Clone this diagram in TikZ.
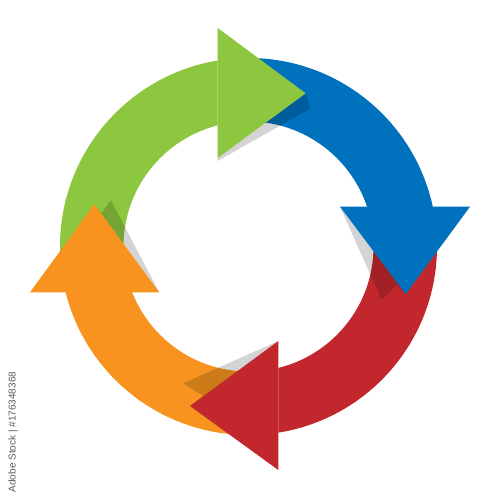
\documentclass[tikz,border=0pt]{standalone}
\usepackage{fontspec}
\setmainfont{Liberation Sans}
\definecolor{cgreen}{HTML}{8DC63F}
\definecolor{cblue}{HTML}{0071BC}
\definecolor{cred}{HTML}{C1272D}
\definecolor{corange}{HTML}{F7931E}
\definecolor{cmark}{HTML}{5A5A5A}
\begin{document}
\begin{tikzpicture}[x=1pt,y=-1pt,
  shadowfill/.style={fill=black,fill opacity=0.17},
  ring/.style={even odd rule}]
\fill[white] (0,0) rectangle (500,500);
\useasboundingbox (0,0) rectangle (500,500);
\coordinate (c) at (248.5,246.5);
% bands
\begin{scope}
  \clip (0,0) rectangle (217.7,250);
  \fill[cgreen,ring] (c) circle[radius=188.5pt] (c) circle[radius=125pt];
\end{scope}
\begin{scope}
  \clip (248.5,0) rectangle (500,206.7);
  \fill[cblue,ring] (c) circle[radius=188.5pt] (c) circle[radius=125pt];
\end{scope}
\begin{scope}
  \clip (278.3,246.5) rectangle (500,500);
  \fill[cred,ring] (c) circle[radius=188.5pt] (c) circle[radius=125pt];
\end{scope}
\begin{scope}
  \clip (0,292.3) rectangle (248.5,500);
  \fill[corange,ring] (c) circle[radius=188.5pt] (c) circle[radius=125pt];
\end{scope}
% shadows
\fill[shadowfill] (217.7,158) -- (217.7,161) -- (310.3,108.5) -- (305.7,93.3) -- cycle;
\fill[shadowfill] (340,206.7) -- (381.7,300) -- (397,285) -- (405.7,294) -- cycle;
\fill[shadowfill] (278.3,341) -- (183.3,383.3) -- (203.3,396) -- (190,406) -- cycle;
\fill[shadowfill] (159.3,292.3) -- (110.7,200) -- (101.7,213.3) -- (94.3,204.3) -- cycle;
% heads
\fill[cgreen] (217.7,28) -- (305.7,93.3) -- (217.7,158) -- cycle;
\fill[cblue] (340,206.7) -- (470,206.7) -- (405.7,294) -- cycle;
\fill[cred] (278.3,341) -- (190,406) -- (278.3,470) -- cycle;
\fill[corange] (30,292.3) -- (159.3,292.3) -- (94.3,204.3) -- cycle;
% watermark label
\node[rotate=90, text=cmark, font=\fontsize{10}{12}\selectfont, inner sep=0pt] (mark) at (13,432) {Adobe Stock | \#176348368};
\end{tikzpicture}
\end{document}
